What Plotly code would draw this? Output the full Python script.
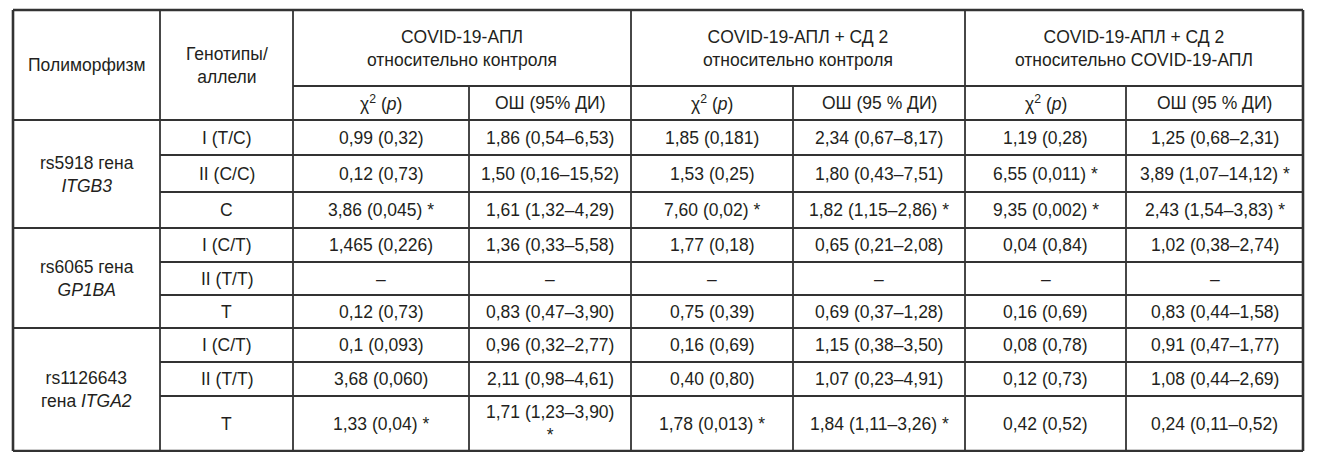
import plotly.graph_objects as go

# --- table content ---
polymorphisms = ["rs5918 гена<br><i>ITGB3</i>",
                 "rs6065 гена<br><i>GP1BA</i>",
                 "rs1126643<br>гена <i>ITGA2</i>"]
genotypes = ["I (T/C)", "II (C/C)", "C",
             "I (C/T)", "II (T/T)", "T",
             "I (C/T)", "II (T/T)", "T"]

group_titles = ["COVID-19-АПЛ<br>относительно контроля",
                "COVID-19-АПЛ + СД 2<br>относительно контроля",
                "COVID-19-АПЛ + СД 2<br>относительно COVID-19-АПЛ"]
sub_titles = ["χ<sup>2</sup> (<i>p</i>)", "ОШ (95% ДИ)",
              "χ<sup>2</sup> (<i>p</i>)", "ОШ (95 % ДИ)",
              "χ<sup>2</sup> (<i>p</i>)", "ОШ (95 % ДИ)"]

chi_apl_ctrl = ["0,99 (0,32)", "0,12 (0,73)", "3,86 (0,045) *",
                "1,465 (0,226)", "–", "0,12 (0,73)",
                "0,1 (0,093)", "3,68 (0,060)", "1,33 (0,04) *"]
or_apl_ctrl = ["1,86 (0,54–6,53)", "1,50 (0,16–15,52)", "1,61 (1,32–4,29)",
               "1,36 (0,33–5,58)", "–", "0,83 (0,47–3,90)",
               "0,96 (0,32–2,77)", "2,11 (0,98–4,61)", "1,71 (1,23–3,90)<br>*"]
chi_dm_ctrl = ["1,85 (0,181)", "1,53 (0,25)", "7,60 (0,02) *",
               "1,77 (0,18)", "–", "0,75 (0,39)",
               "0,16 (0,69)", "0,40 (0,80)", "1,78 (0,013) *"]
or_dm_ctrl = ["2,34 (0,67–8,17)", "1,80 (0,43–7,51)", "1,82 (1,15–2,86) *",
              "0,65 (0,21–2,08)", "–", "0,69 (0,37–1,28)",
              "1,15 (0,38–3,50)", "1,07 (0,23–4,91)", "1,84 (1,11–3,26) *"]
chi_dm_apl = ["1,19 (0,28)", "6,55 (0,011) *", "9,35 (0,002) *",
              "0,04 (0,84)", "–", "0,16 (0,69)",
              "0,08 (0,78)", "0,12 (0,73)", "0,42 (0,52)"]
or_dm_apl = ["1,25 (0,68–2,31)", "3,89 (1,07–14,12) *", "2,43 (1,54–3,83) *",
             "1,02 (0,38–2,74)", "–", "0,83 (0,44–1,58)",
             "0,91 (0,47–1,77)", "1,08 (0,44–2,69)", "0,24 (0,11–0,52)"]

value_cols = [chi_apl_ctrl, or_apl_ctrl, chi_dm_ctrl, or_dm_ctrl, chi_dm_apl, or_dm_apl]

# --- grid geometry (page pixels) ---
col_edges = [13, 160, 293, 469, 631, 793, 965, 1126, 1303]
row_edges = [10, 86, 120, 155, 192, 228, 262, 295, 328, 362, 396, 451]

# page body has an 8px margin, so the figure is drawn 8px in
PAGE_OFF = 8
FIG_W, FIG_H = 1321 - 2 * PAGE_OFF, 460 - 2 * PAGE_OFF

LINE = "#333333"
TXT = "#231f20"
FONT = dict(family="Liberation Sans, Arial, sans-serif", size=17.5, color=TXT)

shapes = []
annotations = []


def hline(y, x0, x1, w=1.8):
    shapes.append(dict(type="line", xref="x", yref="y", x0=x0, x1=x1, y0=y, y1=y,
                       line=dict(color=LINE, width=w)))


def vline(x, y0, y1, w=1.8):
    shapes.append(dict(type="line", xref="x", yref="y", x0=x, x1=x, y0=y0, y1=y1,
                       line=dict(color=LINE, width=w)))


def cell(text, x0, x1, y0, y1):
    annotations.append(dict(x=(x0 + x1) / 2, y=(y0 + y1) / 2, xref="x", yref="y",
                            text=text, showarrow=False, font=FONT,
                            xanchor="center", yanchor="middle", align="center"))


L, R = col_edges[0], col_edges[-1]
T, B = row_edges[0], row_edges[-1]

# vertical lines
for i, x in enumerate(col_edges[1:-1], start=1):
    if i in (3, 5, 7):  # split inside a group: not in the top header row
        vline(x, row_edges[1], B)
    else:
        vline(x, T, B)

# horizontal lines
hline(row_edges[1], col_edges[2], R)           # under group titles
hline(row_edges[2], L, R, 2.2)                 # header bottom
for r in range(1, 9):
    y = row_edges[2 + r]
    if r % 3 == 0:
        hline(y, L, R, 2.2)
    else:
        hline(y, col_edges[1], R)

# outer border
hline(T, L, R, 2.6)
hline(B, L, R, 2.6)
vline(L, T, B, 2.6)
vline(R, T, B, 2.6)

# header text
cell("Полиморфизм", col_edges[0], col_edges[1], T, row_edges[2])
cell("Генотипы/<br>аллели", col_edges[1], col_edges[2], T, row_edges[2])
for g, title in enumerate(group_titles):
    cell(title, col_edges[2 + 2 * g], col_edges[4 + 2 * g], T, row_edges[1])
for s, title in enumerate(sub_titles):
    cell(title, col_edges[2 + s], col_edges[3 + s], row_edges[1], row_edges[2])

# body text
for p, name in enumerate(polymorphisms):
    cell(name, col_edges[0], col_edges[1], row_edges[2 + 3 * p], row_edges[5 + 3 * p])
for r, gt in enumerate(genotypes):
    y0, y1 = row_edges[2 + r], row_edges[3 + r]
    cell(gt, col_edges[1], col_edges[2], y0, y1)
    for c, col in enumerate(value_cols):
        cell(col[r], col_edges[2 + c], col_edges[3 + c], y0, y1)

fig = go.Figure()
fig.update_layout(
    width=FIG_W, height=FIG_H,
    margin=dict(l=0, r=0, t=0, b=0),
    paper_bgcolor="white", plot_bgcolor="white",
    xaxis=dict(range=[PAGE_OFF, PAGE_OFF + FIG_W], visible=False, fixedrange=True),
    yaxis=dict(range=[PAGE_OFF + FIG_H, PAGE_OFF], visible=False, fixedrange=True),
    shapes=shapes, annotations=annotations,
    showlegend=False,
)

fig.write_html("out.html")
